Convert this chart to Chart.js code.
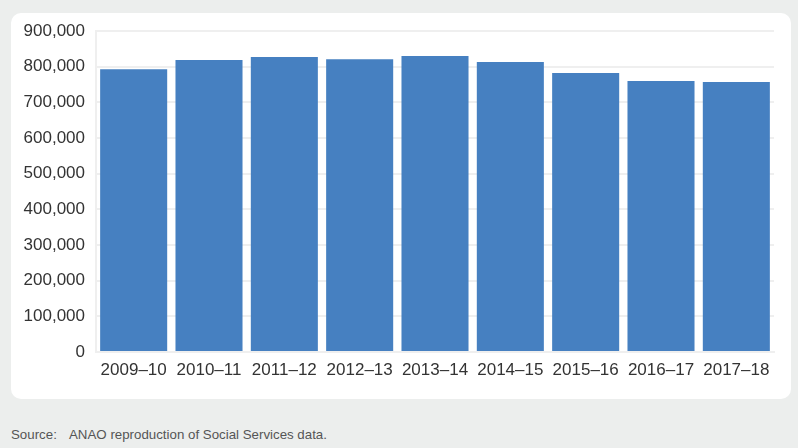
<!DOCTYPE html>
<html>
<head>
<meta charset="utf-8">
<script src="https://cdn.jsdelivr.net/npm/chart.js@4"></script>
<style>
  html, body { margin: 0; padding: 0; }
  body { width: 798px; height: 448px; background: #eceeed; position: relative; overflow: hidden;
         font-family: "Liberation Sans", Arial, sans-serif; }
  .panel { position: absolute; left: 11px; top: 13px; width: 780px; height: 386px;
           background: #fff; border-radius: 10px; }
  .source { position: absolute; left: 11px; top: 427px; font-size: 13.3px; color: #555; }
  .source span { display: inline-block; width: 58px; }
</style>
</head>
<body>
<div class="panel"><canvas id="chart" width="780" height="386"></canvas></div>
<div class="source"><span>Source:</span>ANAO reproduction of Social Services data.</div>
<script>
// Recipients by financial year
const years = ['2009–10', '2010–11', '2011–12', '2012–13', '2013–14', '2014–15', '2015–16', '2016–17', '2017–18'];
const recipients = [793000, 819000, 827000, 821000, 830000, 813000, 782000, 760000, 757000];
const yMax = 900000;
const yStep = 100000;

const GRID = '#efefef';
const FONT = { family: '"Liberation Sans", Arial, sans-serif', size: 17 };

new Chart(document.getElementById('chart'), {
  type: 'bar',
  data: {
    labels: years,
    datasets: [{
      data: recipients,
      backgroundColor: '#4680c1',
      barPercentage: 0.89,
      categoryPercentage: 1,
    }],
  },
  options: {
    responsive: false,
    animation: false,
    layout: { padding: { top: 18, right: 17, left: 0, bottom: 0 } },
    plugins: { legend: { display: false }, tooltip: { enabled: false } },
    scales: {
      x: {
        grid: { display: false, drawTicks: false },
        border: { color: GRID, width: 2 },
        ticks: { color: '#333', padding: 8, font: FONT },
        afterFit: (s) => { s.height = 47; },
      },
      y: {
        min: 0,
        max: yMax,
        grid: { color: GRID, lineWidth: 2, drawTicks: false },
        border: { color: GRID, width: 2 },
        ticks: {
          stepSize: yStep,
          color: '#333',
          padding: 11,
          font: FONT,
          callback: (v) => v.toLocaleString('en-US'),
        },
        // fixed axis width, and no extra room for the top label
        afterFit: (s) => { s.width = 85; s.paddingTop = 0; s.paddingBottom = 0; },
      },
    },
  },
});
</script>
</body>
</html>
